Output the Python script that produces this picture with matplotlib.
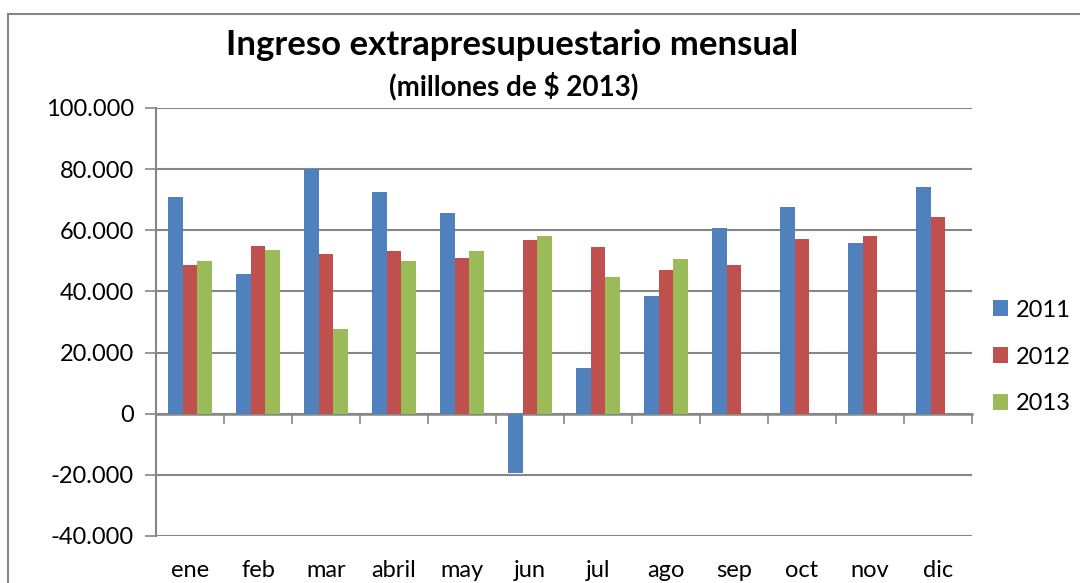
import numpy as np
import matplotlib
matplotlib.use("Agg")
import matplotlib.pyplot as plt
from matplotlib.patches import Rectangle
from matplotlib.ticker import FuncFormatter

plt.rcParams['font.family'] = ['Lato', 'DejaVu Sans']

months = ['ene', 'feb', 'mar', 'abril', 'may', 'jun', 'jul', 'ago', 'sep', 'oct', 'nov', 'dic']
years = ['2011', '2012', '2013']
ing_2011 = [71000, 45800, 80000, 72500, 65800, -19400, 14800, 38600, 60900, 67600, 55800, 74000]
ing_2012 = [48800, 55000, 52300, 53100, 50800, 56700, 54600, 47000, 48500, 57000, 58200, 64400]
ing_2013 = [50100, 53600, 27600, 49800, 53100, 58200, 44600, 50500, np.nan, np.nan, np.nan, np.nan]
colors = ['#4F81BD', '#C0504D', '#9BBB59']

GRID = '#868686'

fig = plt.figure(figsize=(10.8, 5.83), dpi=100)
ax = fig.add_axes([156 / 1080, 47 / 583, 816 / 1080, 428 / 583])

x = np.arange(len(months))
w = 0.22
for i, (vals, col, lab) in enumerate(zip([ing_2011, ing_2012, ing_2013], colors, years)):
    ax.bar(x + (i - 1) * w, vals, w, color=col, label=lab, zorder=3)

ax.set_xlim(-0.5, len(months) - 0.5)
ax.set_ylim(-40000, 100000)
ax.set_yticks(np.arange(-40000, 100001, 20000))
ax.yaxis.set_major_formatter(FuncFormatter(lambda v, p: f"{int(v):,}".replace(',', '.')))
ax.yaxis.grid(True, color=GRID, linewidth=1.5, zorder=0)
ax.tick_params(axis='y', length=8, width=1.2, color=GRID, labelsize=17, pad=8)

# category labels at the bottom, no tick marks
ax.set_xticks(x)
ax.set_xticklabels(months)
ax.tick_params(axis='x', length=0, labelsize=17, pad=17)

for s in ['top', 'right', 'bottom']:
    ax.spines[s].set_visible(False)
ax.spines['left'].set_color(GRID)
ax.spines['left'].set_linewidth(1.5)

# zero line with tick marks between categories
zero_pos = 40000 / 140000
zax = ax.secondary_xaxis(zero_pos)
zax.set_xticks(np.arange(-0.5, len(months), 1.0))
zax.set_xticklabels([])
zax.tick_params(axis='x', length=7, width=1.2, color=GRID, direction='out')
zax.spines['bottom'].set_color(GRID)
zax.spines['bottom'].set_linewidth(1.8)

leg = fig.legend(loc='center left', bbox_to_anchor=(993 / 1080, 1 - 357 / 583), frameon=False,
                 fontsize=17, handlelength=0.65, handleheight=0.65, handletextpad=0.3,
                 labelspacing=1.1, borderpad=0, borderaxespad=0)

fig.text(0.4745, 0.922, 'Ingreso extrapresupuestario mensual', ha='center', va='center',
         fontsize=25, fontweight='bold')
fig.text(0.4755, 0.852, '(millones de $ 2013)', ha='center', va='center',
         fontsize=20, fontweight='bold')

# chart border
fig.patches.append(Rectangle((8 / 1080, -0.01), 1.1, 1 - 14 / 583 + 0.01, transform=fig.transFigure,
                             fill=False, edgecolor=GRID, linewidth=1.5))

fig.savefig('out.png', dpi=100)
